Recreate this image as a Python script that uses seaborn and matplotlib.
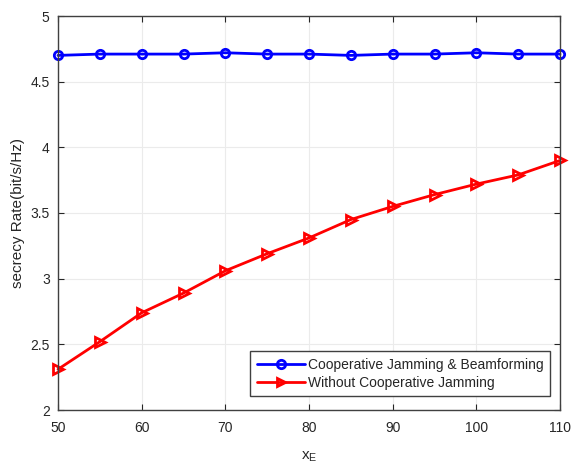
import numpy as np
import pandas as pd
import matplotlib
matplotlib.use('Agg')
import matplotlib.pyplot as plt
import seaborn as sns

x_e = [50, 55, 60, 65, 70, 75, 80, 85, 90, 95, 100, 105, 110]
coop_bf = [4.70, 4.71, 4.71, 4.71, 4.72, 4.71, 4.71, 4.70, 4.71, 4.71, 4.72, 4.71, 4.71]
no_coop = [2.31, 2.52, 2.74, 2.89, 3.06, 3.19, 3.31, 3.45, 3.55, 3.64, 3.72, 3.79, 3.90]
labels = ['Cooperative Jamming & Beamforming', 'Without Cooperative Jamming']
colors = ['#0000ff', '#ff0000']

df = pd.DataFrame({
	'x': x_e * 2,
	'rate': coop_bf + no_coop,
	'scheme': [labels[0]] * len(x_e) + [labels[1]] * len(x_e),
})

sns.set_style('ticks')
plt.rcParams['font.family'] = ['Liberation Sans', 'DejaVu Sans']

fig = plt.figure(figsize = (5.72, 4.66), dpi = 100)
ax = fig.add_axes([58 / 572, 56 / 466, 502 / 572, 394 / 466])

sns.lineplot(data = df, x = 'x', y = 'rate', hue = 'scheme', style = 'scheme',
	palette = colors, markers = ['o', '>'], dashes = False,
	linewidth = 2, markersize = 6, markeredgewidth = 2, ax = ax)
for ln, c in zip(ax.lines, colors):
	ln.set_markeredgecolor(c)
	ln.set_markerfacecolor('none')
	ln.set_clip_on(False)
ax.lines[1].set_markersize(7)

ax.set_xlim(50, 110)
ax.set_ylim(2, 5)
ax.set_xticks(np.arange(50, 111, 10))
ax.set_yticks([2, 2.5, 3, 3.5, 4, 4.5, 5])
ax.set_yticklabels(['2', '2.5', '3', '3.5', '4', '4.5', '5'])
ax.grid(True, color = '#ebebeb', linewidth = 0.8)
ax.set_axisbelow(True)
for sp in ax.spines.values():
	sp.set_visible(True)
	sp.set_color('#404040')
	sp.set_linewidth(1.0)
ax.tick_params(direction = 'in', length = 4, labelsize = 10, colors = '#262626',
	top = True, right = True)
ax.tick_params(axis = 'x', pad = 8)
ax.tick_params(axis = 'y', pad = 6)
ax.set_xlabel(r'x$_\mathregular{E}$', fontsize = 11, color = '#262626', labelpad = 10)
ax.set_ylabel('secrecy Rate(bit/s/Hz)', fontsize = 11, color = '#262626')

leg = ax.legend(loc = 'lower right', bbox_to_anchor = (1 - 10 / 502, 14 / 394),
	fontsize = 10, fancybox = False, framealpha = 1, edgecolor = '#404040',
	borderpad = 0.45, handlelength = 3.5, handletextpad = 0.2,
	labelspacing = 0.3, borderaxespad = 0)
leg.get_frame().set_linewidth(1.0)
for h, c in zip(leg.get_lines(), colors):
	h.set_markerfacecolor('none')
	h.set_markeredgecolor(c)

fig.savefig('out.png', dpi = 100)
